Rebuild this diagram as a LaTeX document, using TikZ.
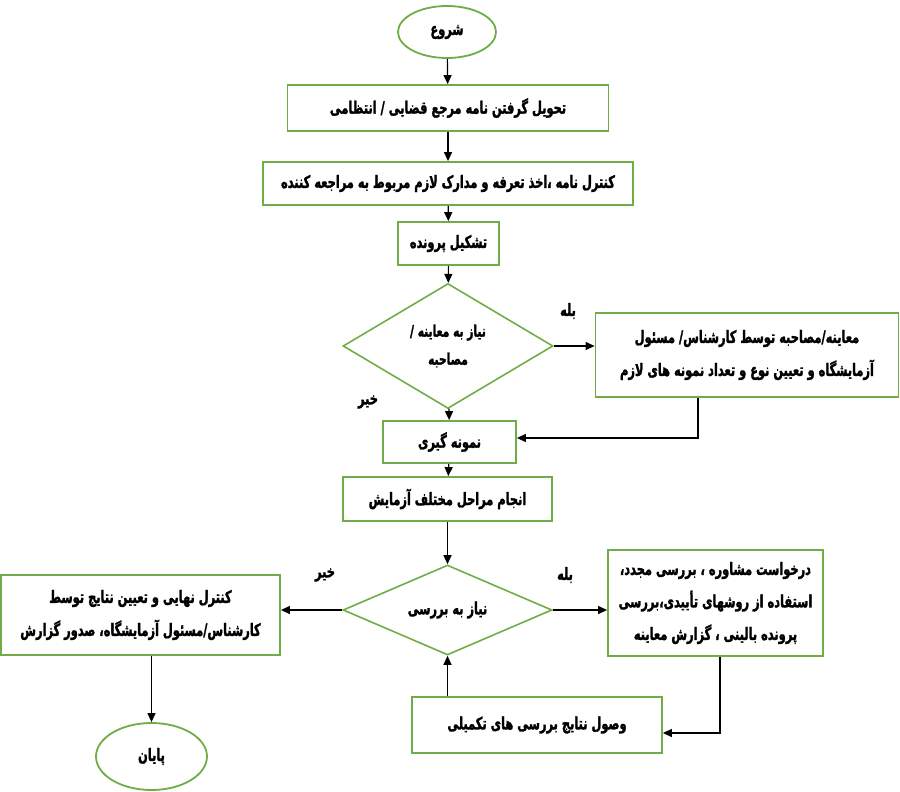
\documentclass[tikz,border=0pt]{standalone}
\usepackage{fontspec}
\usetikzlibrary{shapes.geometric,arrows.meta}
\TeXXeTstate=1
\newfontfamily\arabicfont[Script=Arabic,FakeStretch=0.67,BoldFeatures={FakeBold=1.6}]{DejaVu Sans}
\newcommand{\fa}[1]{\beginR #1\endR}
\definecolor{boxgreen}{HTML}{70AD47}
\tikzset{
  farsi/.style={font=\arabicfont\bfseries\fontsize{17}{33}\selectfont},
  gbox/.style={farsi,draw=boxgreen,line width=1.8pt,rectangle,inner sep=0pt,align=center},
  gell/.style={farsi,draw=boxgreen,line width=1.8pt,ellipse,inner sep=0pt},
  gdia/.style={farsi,draw=boxgreen,line width=1.6pt,diamond,inner sep=0pt,align=center},
  conn/.style={draw=black,line width=1.2pt,-{Triangle[length=9pt,width=8pt]}},
  lbl/.style={farsi,inner sep=0pt}
}
\begin{document}
\begin{tikzpicture}[x=1pt,y=-1pt]
\useasboundingbox (0,0) rectangle (900,792);
\node[gell,minimum width=98,minimum height=52] (start) at (447,32) {\fa{شروع}};
\node[gbox,minimum width=321,minimum height=46] (b1) at (448,108) {\fa{تحویل گرفتن نامه مرجع قضایی / انتظامی}};
\node[gbox,minimum width=370,minimum height=43] (b2) at (448,183.5) {\fa{کنترل نامه ،اخذ تعرفه و مدارک لازم مربوط به مراجعه کننده}};
\node[gbox,minimum width=101,minimum height=43] (b3) at (448.5,243.5) {\fa{تشکیل پرونده}};
\node[gdia,aspect=1.7,minimum width=210,minimum height=125,font=\arabicfont\bfseries\fontsize{16}{28}\selectfont] (d1) at (448,346) {\fa{نیاز به معاینه /}\\\fa{مصاحبه}};
\node[gbox,minimum width=303,minimum height=84] (r1) at (747,355) {\fa{معاینه/مصاحبه توسط کارشناس/ مسئول}\\\fa{آزمایشگاه و تعیین نوع و تعداد نمونه های لازم}};
\node[gbox,minimum width=133,minimum height=42] (nm) at (449.5,442) {\fa{نمونه گیری}};
\node[gbox,minimum width=209,minimum height=44] (b5) at (447.5,499) {\fa{انجام مراحل مختلف آزمایش}};
\node[gdia,aspect=2.3,minimum width=209,minimum height=90] (d2) at (447.5,610) {\fa{نیاز به بررسی}};
\node[gbox,minimum width=215,minimum height=106,font=\arabicfont\bfseries\fontsize{17}{32.5}\selectfont] (r2) at (715.5,603) {\fa{درخواست مشاوره ، بررسی مجدد،}\\\fa{استفاده از روشهای تأییدی،بررسی}\\\fa{پرونده بالینی ، گزارش معاینه}};
\node[gbox,minimum width=279,minimum height=80] (lb) at (140.5,615) {\fa{کنترل نهایی و تعیین نتایج توسط}\\\fa{کارشناس/مسئول آزمایشگاه، صدور گزارش}};
\node[gbox,minimum width=250,minimum height=56] (vs) at (537,725) {\fa{وصول نتایج بررسی های تکمیلی}};
\node[gell,minimum width=111,minimum height=67] (end) at (151.5,756.5) {\fa{پایان}};
\node[lbl] (yes1) at (568,311) {\fa{بله}};
\node[lbl] (no1) at (368,402) {\fa{خیر}};
\node[lbl] (no2) at (325,575) {\fa{خیر}};
\node[lbl] (yes2) at (565,575) {\fa{بله}};
\coordinate (c1) at (698,438);
\coordinate (c2) at (720,733);
\draw[conn] (start) -- (b1);
\draw[conn] (b1) -- (b2);
\draw[conn] (b2) -- (b3);
\draw[conn] (b3) -- (d1);
\draw[conn] (d1.east) -- (d1.east -| r1.west);
\draw[conn] (r1.south -| c1) -- (c1) -- (c1 -| nm.east);
\draw[conn] (d1) -- (nm);
\draw[conn] (nm) -- (b5);
\draw[conn] (b5) -- (d2);
\draw[conn] (d2.east) -- (d2.east -| r2.west);
\draw[conn] (d2.west) -- (d2.west -| lb.east);
\draw[conn] (r2.south -| c2) -- (c2) -- (c2 -| vs.east);
\draw[conn] (d2.south |- vs.north) -- (d2.south);
\draw[conn] (end.north |- lb.south) -- (end.north);
\end{tikzpicture}
\end{document}
